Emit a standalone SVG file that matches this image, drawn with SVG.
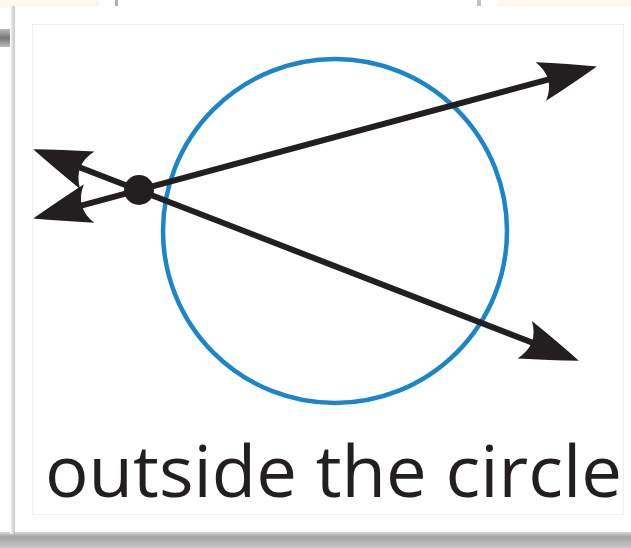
<svg xmlns="http://www.w3.org/2000/svg" width="631" height="548" viewBox="0 0 631 548">
  <style>
    .ray { stroke: #231f20; stroke-width: 6; fill: none; }
    .label { font-family: "Open Sans", "Noto Sans", sans-serif; font-size: 71px; fill: #231f20; }
  </style>
  <defs>
    <marker id="arrow" viewBox="0 0 60 40" markerWidth="60" markerHeight="40" markerUnits="userSpaceOnUse" refX="15" refY="20" orient="auto-start-reverse">
      <path d="M59,20 Q32,10 1,0 Q16,20 1,40 Q32,30 59,20 Z" fill="#231f20"/>
    </marker>
    <linearGradient id="shadowB" x1="0" y1="0" x2="0" y2="1">
      <stop offset="0" stop-color="#d8d8d8"/>
      <stop offset="0.3" stop-color="#a4a4a4"/>
      <stop offset="1" stop-color="#c8c8c8"/>
    </linearGradient>
    <linearGradient id="shadowL" x1="0" y1="0" x2="1" y2="0">
      <stop offset="0" stop-color="#ffffff"/>
      <stop offset="1" stop-color="#bdbdbd"/>
    </linearGradient>
    <linearGradient id="smudge" x1="0" y1="0" x2="0" y2="1">
      <stop offset="0" stop-color="#bbbbbb"/>
      <stop offset="0.5" stop-color="#777777"/>
      <stop offset="1" stop-color="#bbbbbb"/>
    </linearGradient>
  </defs>

  <!-- background / photo context -->
  <rect x="0" y="0" width="631" height="548" fill="#ffffff"/>
  <rect x="0" y="0" width="99" height="8" fill="#fdf8ee"/>
  <rect x="498" y="0" width="133" height="8" fill="#fdf8ee"/>
  <rect x="115" y="0" width="3" height="7" fill="#b0b0b0"/>
  <rect x="477" y="0" width="4" height="7" fill="#c0c0c0"/>
  <rect x="0" y="29" width="14" height="18" fill="url(#smudge)"/>

  <!-- card -->
  <rect x="0" y="532" width="631" height="16" fill="url(#shadowB)"/>
  <rect x="10" y="6" width="5" height="528" fill="url(#shadowL)"/>
  <rect x="14" y="6" width="617" height="526" fill="#ffffff"/>
  <line x1="14.5" y1="6" x2="14.5" y2="532" stroke="#cfcfcf" stroke-width="1"/>
  <rect x="32.5" y="24.5" width="591" height="490" fill="none" stroke="#f0f0f0" stroke-width="1"/>

  <!-- circle -->
  <g id="circle">
    <circle cx="335" cy="231" r="172" fill="none" stroke="#1b85c9" stroke-width="4.5"/>
  </g>

  <!-- connectors (lines with arrows) -->
  <g id="connectors">
    <line class="ray" x1="75.6" y1="207.1" x2="554.4" y2="77.9" marker-start="url(#arrow)" marker-end="url(#arrow)"/>
    <line class="ray" x1="74.2" y1="165.2" x2="537.8" y2="344.8" marker-start="url(#arrow)" marker-end="url(#arrow)"/>
  </g>

  <!-- point -->
  <g id="point">
    <circle cx="139" cy="190" r="15" fill="#231f20"/>
  </g>

  <g id="caption">
    <text class="label" x="45" y="497" textLength="577" lengthAdjust="spacingAndGlyphs">outside the circle</text>
  </g>
</svg>
